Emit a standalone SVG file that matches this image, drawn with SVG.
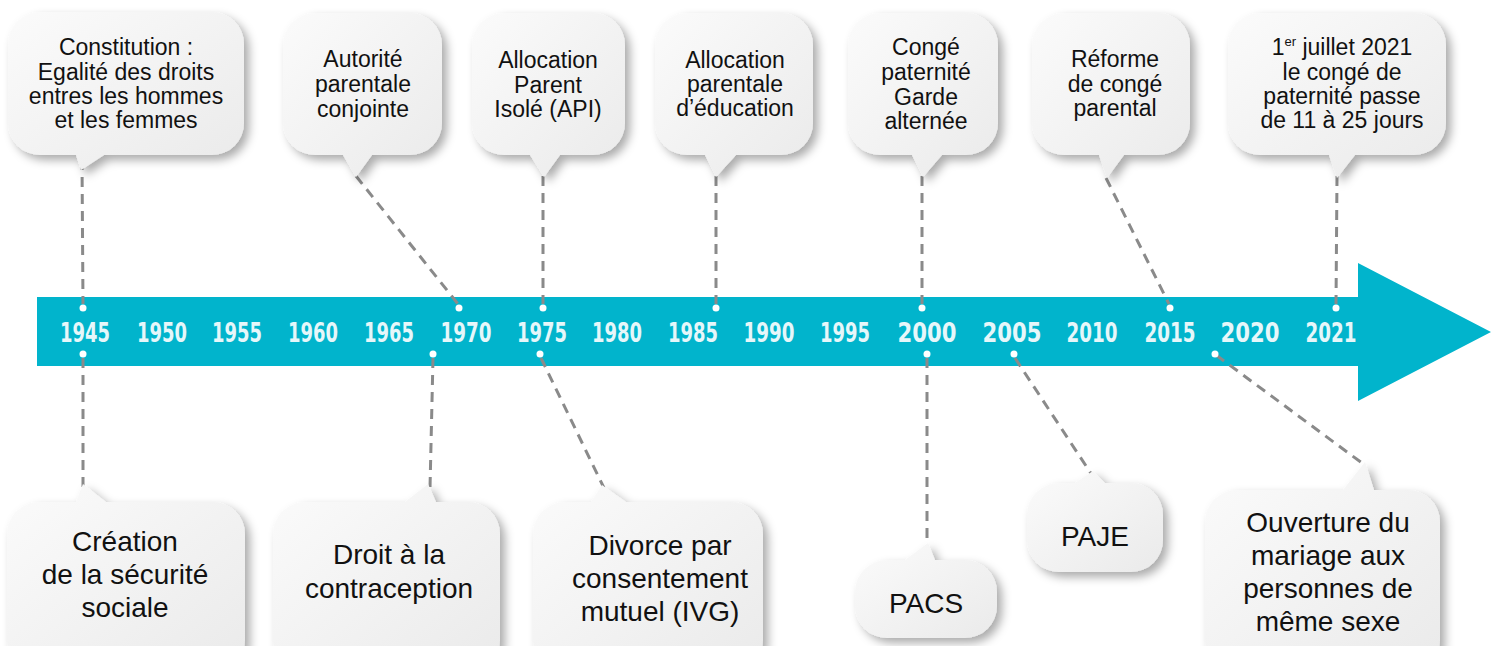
<svg xmlns="http://www.w3.org/2000/svg" width="1491" height="646" viewBox="0 0 1491 646">
  <defs>
    <linearGradient id="bubbleFill" x1="0" y1="0" x2="1" y2="1">
      <stop offset="0" stop-color="#fbfbfb"/>
      <stop offset="1" stop-color="#eaeaea"/>
    </linearGradient>
    <filter id="shadow" x="-20%" y="-20%" width="140%" height="140%">
      <feDropShadow dx="5" dy="5" stdDeviation="5" flood-color="#000" flood-opacity="0.33"/>
    </filter>
  </defs>
  <style>
    .bubble { fill: url(#bubbleFill); filter: url(#shadow); }
    .lbl { font-family: "Liberation Sans", Arial, sans-serif; fill: #111; text-anchor: middle; }
    .top { font-size: 23px; }
    .bot { font-size: 28px; }
    .year { font-family: "DejaVu Sans Condensed", "DejaVu Sans", sans-serif; font-weight: bold; font-size: 26px; fill: #e6f7fa; text-anchor: middle; }
    .dash { fill: none; stroke: #8a8a8a; stroke-width: 3; stroke-dasharray: 10 7; }
    .dot { fill: #ffffff; }
  </style>

  <!-- timeline arrow -->
  <g id="timeline">
    <polygon points="37,297 1358,297 1358,263 1491,332 1358,401 1358,366 37,366" fill="#01b4cc"/>
    <text class="year" x="85" y="342" textLength="50" lengthAdjust="spacingAndGlyphs">1945</text>
    <text class="year" x="162" y="342" textLength="50" lengthAdjust="spacingAndGlyphs">1950</text>
    <text class="year" x="237" y="342" textLength="50" lengthAdjust="spacingAndGlyphs">1955</text>
    <text class="year" x="313" y="342" textLength="50" lengthAdjust="spacingAndGlyphs">1960</text>
    <text class="year" x="389" y="342" textLength="50" lengthAdjust="spacingAndGlyphs">1965</text>
    <text class="year" x="466" y="342" textLength="51" lengthAdjust="spacingAndGlyphs">1970</text>
    <text class="year" x="542" y="342" textLength="50" lengthAdjust="spacingAndGlyphs">1975</text>
    <text class="year" x="617" y="342" textLength="50" lengthAdjust="spacingAndGlyphs">1980</text>
    <text class="year" x="693" y="342" textLength="50" lengthAdjust="spacingAndGlyphs">1985</text>
    <text class="year" x="769" y="342" textLength="51" lengthAdjust="spacingAndGlyphs">1990</text>
    <text class="year" x="845" y="342" textLength="50" lengthAdjust="spacingAndGlyphs">1995</text>
    <text class="year" x="927" y="342" textLength="59" lengthAdjust="spacingAndGlyphs">2000</text>
    <text class="year" x="1012" y="342" textLength="59" lengthAdjust="spacingAndGlyphs">2005</text>
    <text class="year" x="1092" y="342" textLength="51" lengthAdjust="spacingAndGlyphs">2010</text>
    <text class="year" x="1170" y="342" textLength="51" lengthAdjust="spacingAndGlyphs">2015</text>
    <text class="year" x="1250" y="342" textLength="59" lengthAdjust="spacingAndGlyphs">2020</text>
    <text class="year" x="1331" y="342" textLength="51" lengthAdjust="spacingAndGlyphs">2021</text>
  </g>

  <!-- dashed leaders from the events to the timeline -->
  <g id="connectors">
    <path class="dash" d="M82,160 L83,304"/>
    <path class="dash" d="M356,176 L458,304"/>
    <path class="dash" d="M543,176 L543,304"/>
    <path class="dash" d="M716,176 L716,304"/>
    <path class="dash" d="M922,176 L922,304"/>
    <path class="dash" d="M1106,178 L1169,304"/>
    <path class="dash" d="M1337,176 L1336,304"/>
    <path class="dash" d="M83,358 L83,490"/>
    <path class="dash" d="M433,358 L430,488"/>
    <path class="dash" d="M541,358 L604,488"/>
    <path class="dash" d="M927,358 L927,548"/>
    <path class="dash" d="M1015,358 L1092,475"/>
    <path class="dash" d="M1216,355 L1366,466"/>
    <circle class="dot" cx="83" cy="308" r="3.5"/>
    <circle class="dot" cx="459" cy="308" r="3.5"/>
    <circle class="dot" cx="543" cy="308" r="3.5"/>
    <circle class="dot" cx="716" cy="308" r="3.5"/>
    <circle class="dot" cx="922" cy="308" r="3.5"/>
    <circle class="dot" cx="1170" cy="308" r="3.5"/>
    <circle class="dot" cx="1336" cy="308" r="3.5"/>
    <circle class="dot" cx="83" cy="354" r="3.5"/>
    <circle class="dot" cx="433" cy="354" r="3.5"/>
    <circle class="dot" cx="540" cy="354" r="3.5"/>
    <circle class="dot" cx="927" cy="354" r="3.5"/>
    <circle class="dot" cx="1014" cy="354" r="3.5"/>
    <circle class="dot" cx="1215" cy="354" r="3.5"/>
  </g>

  <!-- events above the timeline -->
  <g id="ev-1945-constitution">
    <path class="bubble" d="M40,12 H212 A32,32 0 0 1 244,44 V123 A32,32 0 0 1 212,155 H104 L81,170 L76,155 H40 A32,32 0 0 1 8,123 V44 A32,32 0 0 1 40,12 Z"/>
    <text class="lbl top" x="126"><tspan x="126" y="55">Constitution :</tspan><tspan x="126" y="80">Egalité des droits</tspan><tspan x="126" y="104">entres les hommes</tspan><tspan x="126" y="128">et les femmes</tspan></text>
  </g>
  <g id="ev-1970-autorite">
    <path class="bubble" d="M315,13 H410 A32,32 0 0 1 442,45 V123 A32,32 0 0 1 410,155 H372 L356,177 L343,155 H315 A32,32 0 0 1 283,123 V45 A32,32 0 0 1 315,13 Z"/>
    <text class="lbl top" x="363"><tspan x="363" y="67">Autorité</tspan><tspan x="363" y="92">parentale</tspan><tspan x="363" y="117">conjointe</tspan></text>
  </g>
  <g id="ev-1975-api">
    <path class="bubble" d="M504,13 H593 A32,32 0 0 1 625,45 V123 A32,32 0 0 1 593,155 H560 L544,177 L530,155 H504 A32,32 0 0 1 472,123 V45 A32,32 0 0 1 504,13 Z"/>
    <text class="lbl top" x="548"><tspan x="548" y="68">Allocation</tspan><tspan x="548" y="93">Parent</tspan><tspan x="548" y="117">Isolé (API)</tspan></text>
  </g>
  <g id="ev-1985-ape">
    <path class="bubble" d="M687,13 H781 A32,32 0 0 1 813,45 V123 A32,32 0 0 1 781,155 H736 L716,177 L705,155 H687 A32,32 0 0 1 655,123 V45 A32,32 0 0 1 687,13 Z"/>
    <text class="lbl top" x="735"><tspan x="735" y="68">Allocation</tspan><tspan x="735" y="92">parentale</tspan><tspan x="735" y="116">d’éducation</tspan></text>
  </g>
  <g id="ev-2000-conge">
    <path class="bubble" d="M880,13 H966 A32,32 0 0 1 998,45 V123 A32,32 0 0 1 966,155 H942 L923,177 L912,155 H880 A32,32 0 0 1 848,123 V45 A32,32 0 0 1 880,13 Z"/>
    <text class="lbl top" x="926"><tspan x="926" y="55">Congé</tspan><tspan x="926" y="80">paternité</tspan><tspan x="926" y="105">Garde</tspan><tspan x="926" y="129">alternée</tspan></text>
  </g>
  <g id="ev-2015-reforme">
    <path class="bubble" d="M1064,13 H1158 A32,32 0 0 1 1190,45 V123 A32,32 0 0 1 1158,155 H1124 L1107,178 L1099,155 H1064 A32,32 0 0 1 1032,123 V45 A32,32 0 0 1 1064,13 Z"/>
    <text class="lbl top" x="1115"><tspan x="1115" y="67">Réforme</tspan><tspan x="1115" y="92">de congé</tspan><tspan x="1115" y="116">parental</tspan></text>
  </g>
  <g id="ev-2021-paternite">
    <path class="bubble" d="M1260,13 H1414 A32,32 0 0 1 1446,45 V123 A32,32 0 0 1 1414,155 H1355 L1337,178 L1329,155 H1260 A32,32 0 0 1 1228,123 V45 A32,32 0 0 1 1260,13 Z"/>
    <text class="lbl top" x="1342"><tspan x="1342" y="55">1<tspan font-size="13" dy="-9">er</tspan><tspan dy="9"> juillet 2021</tspan></tspan><tspan x="1342" y="80">le congé de</tspan><tspan x="1342" y="104">paternité passe</tspan><tspan x="1342" y="128">de 11 à 25 jours</tspan></text>
  </g>

  <!-- events below the timeline -->
  <g id="ev-1945-securite">
    <path class="bubble" d="M39,502 H76 L83,484 L106,502 H213 A32,32 0 0 1 245,534 V640 A32,32 0 0 1 213,672 H39 A32,32 0 0 1 7,640 V534 A32,32 0 0 1 39,502 Z"/>
    <text class="lbl bot" x="125"><tspan x="125" y="551">Création</tspan><tspan x="125" y="584">de la sécurité</tspan><tspan x="125" y="617">sociale</tspan></text>
  </g>
  <g id="ev-1970-contraception">
    <path class="bubble" d="M305,502 H405 L428,484 L436,502 H468 A32,32 0 0 1 500,534 V640 A32,32 0 0 1 468,672 H305 A32,32 0 0 1 273,640 V534 A32,32 0 0 1 305,502 Z"/>
    <text class="lbl bot" x="389"><tspan x="389" y="564">Droit à la</tspan><tspan x="389" y="598">contraception</tspan></text>
  </g>
  <g id="ev-1975-divorce">
    <path class="bubble" d="M565,502 H591 L602,485 L626,502 H731 A32,32 0 0 1 763,534 V640 A32,32 0 0 1 731,672 H565 A32,32 0 0 1 533,640 V534 A32,32 0 0 1 565,502 Z"/>
    <text class="lbl bot" x="660"><tspan x="660" y="555">Divorce par</tspan><tspan x="660" y="588">consentement</tspan><tspan x="660" y="621">mutuel (IVG)</tspan></text>
  </g>
  <g id="ev-2000-pacs">
    <path class="bubble" d="M887,560 H905 L928,543 L935,560 H965 A32,32 0 0 1 997,592 V606 A32,32 0 0 1 965,638 H887 A32,32 0 0 1 855,606 V592 A32,32 0 0 1 887,560 Z"/>
    <text class="lbl bot" x="926" y="613">PACS</text>
  </g>
  <g id="ev-2005-paje">
    <path class="bubble" d="M1059,483 H1075 L1093,471 L1105,483 H1131 A32,32 0 0 1 1163,515 V540 A32,32 0 0 1 1131,572 H1059 A32,32 0 0 1 1027,540 V515 A32,32 0 0 1 1059,483 Z"/>
    <text class="lbl bot" x="1095" y="546">PAJE</text>
  </g>
  <g id="ev-2013-mariage">
    <path class="bubble" d="M1237,490 H1343 L1365,462 L1374,490 H1408 A32,32 0 0 1 1440,522 V640 A32,32 0 0 1 1408,672 H1237 A32,32 0 0 1 1205,640 V522 A32,32 0 0 1 1237,490 Z"/>
    <text class="lbl bot" x="1328"><tspan x="1328" y="532">Ouverture du</tspan><tspan x="1328" y="565">mariage aux</tspan><tspan x="1328" y="598">personnes de</tspan><tspan x="1328" y="631">même sexe</tspan></text>
  </g>
</svg>
